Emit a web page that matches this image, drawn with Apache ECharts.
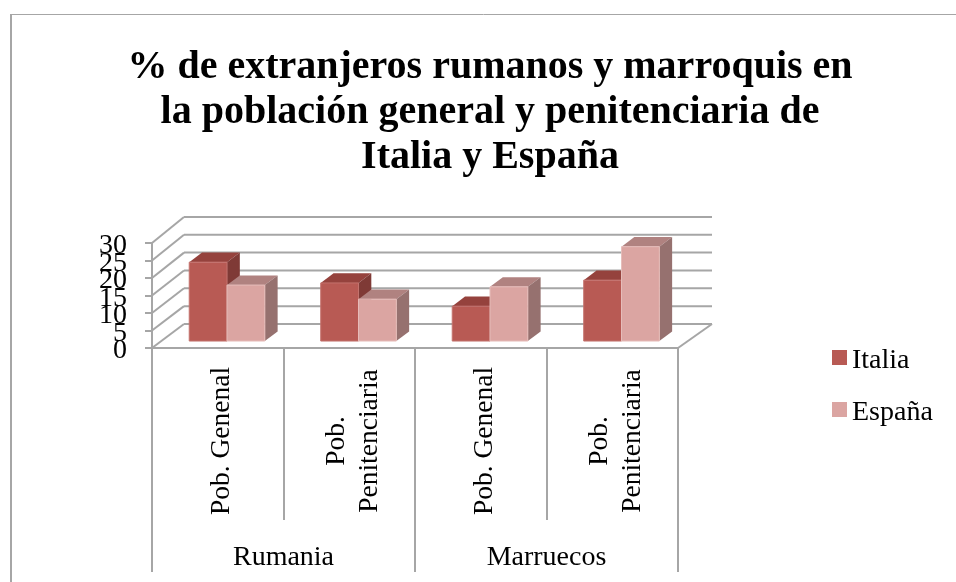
<!DOCTYPE html>
<html><head><meta charset="utf-8">
<style>html,body{margin:0;padding:0;background:#fff}#c{width:956px;height:582px}</style>
<script src="https://cdn.jsdelivr.net/npm/echarts@6/dist/echarts.min.js"></script>
</head><body><div id="c"></div>
<script>
const titleText = '% de extranjeros rumanos y marroquis en\nla población general y penitenciaria de\nItalia y España';
const categories = ['Pob. Genenal', 'Pob.\nPenitenciaria', 'Pob. Genenal', 'Pob.\nPenitenciaria'];
const groups = ['Rumania', 'Marruecos'];
const italia = [22.4, 16.5, 9.9, 17.3];
const espana = [15.9, 11.9, 15.4, 26.8];
const yTicks = [0, 5, 10, 15, 20, 25, 30];

const FONT = '"Liberation Serif", serif';
const GRAY = '#A6A6A6';
const DEPTH = {x: 32, y: -24, yScale: 1.02};
const BAR = {share: 0.2875, dFront: 0.29, dBack: 0.69};
const LEGEND_ICON = 'path://M0 0H15V15H0ZM0 22H15V22H0Z';

const chart = echarts.init(document.getElementById('c'), null, {renderer: 'canvas'});

function wallItem(params, api) {
  const v = api.value(0);
  const cs = params.coordSys;
  const yFront = api.coord([0, v])[1];
  const y0 = cs.y + cs.height;
  const yBack = y0 + DEPTH.y + (yFront - y0) * DEPTH.yScale;
  const style = {stroke: GRAY, lineWidth: 2, fill: null};
  const kids = [
    {type: 'line', shape: {x1: cs.x, y1: yFront, x2: cs.x + DEPTH.x, y2: yBack}, style},
    {type: 'line', shape: {x1: cs.x + DEPTH.x, y1: yBack, x2: cs.x + cs.width + DEPTH.x + 2, y2: yBack}, style}
  ];
  if (v === 0) kids.push({type: 'line', shape: {x1: cs.x + cs.width, y1: yFront, x2: cs.x + cs.width + DEPTH.x + 2, y2: yBack}, style});
  return {type: 'group', children: kids};
}

function barRenderer(side, front, top, right, edge) {
  return function (params, api) {
    const c = api.coord([api.value(0), 0]);
    const w = api.size([1, 0])[0] * BAR.share;
    const h = api.size([0, api.value(1)])[1] * 1.006;
    const x0 = c[0] + DEPTH.x * BAR.dFront + (side === 0 ? -w : 0);
    const y0 = c[1] + DEPTH.y * BAR.dFront;
    const dx = DEPTH.x * (BAR.dBack - BAR.dFront), dy = DEPTH.y * (BAR.dBack - BAR.dFront);
    const x1 = x0 + w, yt = y0 - h;
    return {type: 'group', children: [
      {type: 'polygon', shape: {points: [[x0, yt], [x1, yt], [x1 + dx, yt + dy], [x0 + dx, yt + dy]]}, style: {fill: top}},
      {type: 'polygon', shape: {points: [[x1, y0], [x1, yt], [x1 + dx, yt + dy], [x1 + dx, y0 + dy]]}, style: {fill: right}},
      {type: 'rect', shape: {x: x0, y: yt, width: w, height: h}, style: {fill: front, stroke: edge, lineWidth: 1}}
    ]};
  };
}

const yLabelRich = {n: {fontFamily: FONT, fontSize: 28, height: 8, lineHeight: 8, color: '#000', padding: [6, 0, 0, 0]}};

chart.setOption({
  animation: false,
  backgroundColor: '#fff',
  title: {
    text: titleText, left: 485, top: 40, textAlign: 'center',
    textStyle: {fontFamily: FONT, fontWeight: 'bold', fontSize: 40, lineHeight: 45, color: '#000'}
  },
  legend: {
    orient: 'vertical', left: 827, top: 342, itemWidth: 15, itemHeight: 22, itemGap: 24,
    data: [{name: 'Italia', icon: LEGEND_ICON}, {name: 'España', icon: LEGEND_ICON}],
    textStyle: {fontFamily: FONT, fontSize: 28, color: '#000'}
  },
  grid: [
    {left: 152, top: 243, width: 526, height: 105},
    {left: 156, top: 243, width: 526, height: 105}
  ],
  xAxis: [
    {
      type: 'category', data: categories, position: 'bottom', gridIndex: 0,
      axisLine: {show: true, lineStyle: {color: GRAY, width: 2}},
      axisTick: {show: true, length: 172, lineStyle: {color: GRAY, width: 2}},
      axisLabel: {show: false}
    },
    {
      type: 'category', data: groups, position: 'bottom', gridIndex: 0,
      axisLine: {show: false},
      axisTick: {show: true, length: 224, lineStyle: {color: GRAY, width: 2}},
      axisLabel: {interval: 0, margin: 196, fontFamily: FONT, fontSize: 28, color: '#000'}
    },
    {
      type: 'category', data: categories, position: 'bottom', gridIndex: 1,
      axisLine: {show: false}, axisTick: {show: false},
      axisLabel: {interval: 0, rotate: 90, margin: 93, align: 'center', verticalAlign: 'middle',
        fontFamily: FONT, fontSize: 27.5, lineHeight: 33, color: '#000'}
    }
  ],
  yAxis: [
    {
      type: 'value', min: 0, max: 30, interval: 5, gridIndex: 0,
      axisLine: {show: true, lineStyle: {color: GRAY, width: 2}},
      axisTick: {show: true, length: 7, lineStyle: {color: GRAY, width: 2}},
      axisLabel: {margin: 25, showMinLabel: true, showMaxLabel: true, rich: yLabelRich,
        formatter: v => (v % 10 === 0 ? '{n|' + v + '}' : '')},
      splitLine: {show: false}
    },
    {
      type: 'value', min: 0, max: 30, interval: 5, gridIndex: 0, position: 'left',
      axisLine: {show: false}, axisTick: {show: false},
      axisLabel: {margin: 25, showMinLabel: true, showMaxLabel: true, rich: yLabelRich,
        formatter: v => (v % 10 !== 0 ? '{n|' + v + '}' : '')},
      splitLine: {show: false}
    },
    {type: 'value', min: 0, max: 30, gridIndex: 1, show: false}
  ],
  graphic: [
    {type: 'line', silent: true, shape: {x1: 11, y1: 14.5, x2: 956, y2: 14.5}, style: {stroke: GRAY, lineWidth: 1}},
    {type: 'line', silent: true, shape: {x1: 11, y1: 14, x2: 11, y2: 582}, style: {stroke: GRAY, lineWidth: 2}}
  ],
  series: [
    {type: 'custom', name: 'walls', coordinateSystem: 'cartesian2d', xAxisIndex: 0, yAxisIndex: 0, clip: false, silent: true, z: 1,
      data: yTicks.map(v => [v]), encode: {y: 0}, renderItem: wallItem},
    {type: 'custom', name: 'Italia', coordinateSystem: 'cartesian2d', xAxisIndex: 0, yAxisIndex: 0, clip: false, z: 2,
      itemStyle: {color: '#B85A54'},
      data: italia.map((v, i) => [i, v]), encode: {x: 0, y: 1},
      renderItem: barRenderer(0, '#B85A54', '#95423D', '#7F3A36', '#C4736E')},
    {type: 'custom', name: 'España', coordinateSystem: 'cartesian2d', xAxisIndex: 0, yAxisIndex: 0, clip: false, z: 3,
      itemStyle: {color: '#DBA5A2'},
      data: espana.map((v, i) => [i, v]), encode: {x: 0, y: 1},
      renderItem: barRenderer(1, '#DBA5A2', '#B08280', '#96716F', '#E6BDBA')}
  ]
});
</script></body></html>
